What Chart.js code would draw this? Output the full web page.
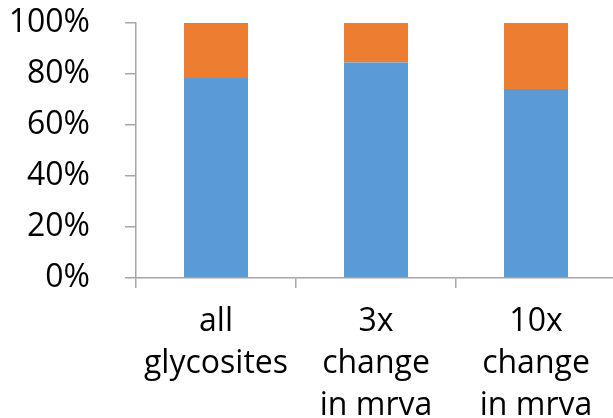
<!DOCTYPE html>
<html lang="en">
<head>
    <meta charset="UTF-8">
    <title>Glycosites stacked bar</title>
    <script src="https://cdn.jsdelivr.net/npm/chart.js"></script>
    <style>
        html, body {
            margin: 0;
            padding: 0;
            overflow: hidden;
            background: #fff;
        }
        .chart-container {
            width: 616px;
            height: 418px;
        }
    </style>
</head>
<body>
    <div class="chart-container">
        <canvas id="stackChart" width="616" height="418"></canvas>
    </div>
<script>
    // podaci očitani sa slike (postotci)
    const categories = [["all", "glycosites"], ["3x", "change", "in mrva"], ["10x", "change", "in mrva"]];
    const seriesBlue = [78.4, 84.5, 74.1];
    const seriesOrange = [21.2, 15.5, 25.9];
    const seriesGreen = [0.4, 0, 0];
    const yTicks = [0, 20, 40, 60, 80, 100];

    const axisColor = '#a6a6a6';
    const fontFamily = '"Open Sans", sans-serif';

    const ctx = document.getElementById('stackChart').getContext('2d');
    const chart = new Chart(ctx, {
        type: 'bar',
        data: {
            labels: categories,
            datasets: [{
                label: 'blue',
                data: seriesBlue,
                backgroundColor: '#5b9bd5'
            }, {
                label: 'orange',
                data: seriesOrange,
                backgroundColor: '#ed7d31'
            }, {
                label: 'green',
                data: seriesGreen,
                backgroundColor: '#70ad47'
            }]
        },
        options: {
            responsive: false,
            animation: false,
            layout: {
                padding: { top: 23, left: 0, right: 0, bottom: 0 }
            },
            plugins: {
                legend: { display: false },
                tooltip: { enabled: false }
            },
            datasets: {
                bar: {
                    barPercentage: 0.4,
                    categoryPercentage: 1.0
                }
            },
            scales: {
                x: {
                    stacked: true,
                    offset: true,
                    grid: {
                        offset: true,
                        drawOnChartArea: false,
                        color: axisColor,
                        tickLength: 10,
                        lineWidth: 1.5
                    },
                    border: { color: axisColor, width: 1.5 },
                    ticks: {
                        color: '#000',
                        maxRotation: 0,
                        padding: 13,
                        font: { family: fontFamily, size: 32, lineHeight: 1.31 }
                    },
                    afterFit: function (scale) {
                        scale.height = 140;
                        scale.paddingLeft = 0;
                        scale.paddingRight = 0;
                    }
                },
                y: {
                    stacked: true,
                    min: 0,
                    max: 100,
                    afterBuildTicks: function (scale) {
                        scale.ticks = yTicks.map(v => ({ value: v }));
                    },
                    grid: {
                        drawOnChartArea: false,
                        color: axisColor,
                        tickLength: 11,
                        lineWidth: 1.5
                    },
                    border: { color: axisColor, width: 1.5 },
                    ticks: {
                        color: '#000',
                        padding: 35,
                        font: { family: fontFamily, size: 32 },
                        callback: v => v + '%'
                    },
                    afterFit: function (scale) {
                        scale.width = 136;
                        scale.paddingTop = 0;
                        scale.paddingBottom = 0;
                    }
                }
            }
        }
    });
</script>
</body>
</html>
